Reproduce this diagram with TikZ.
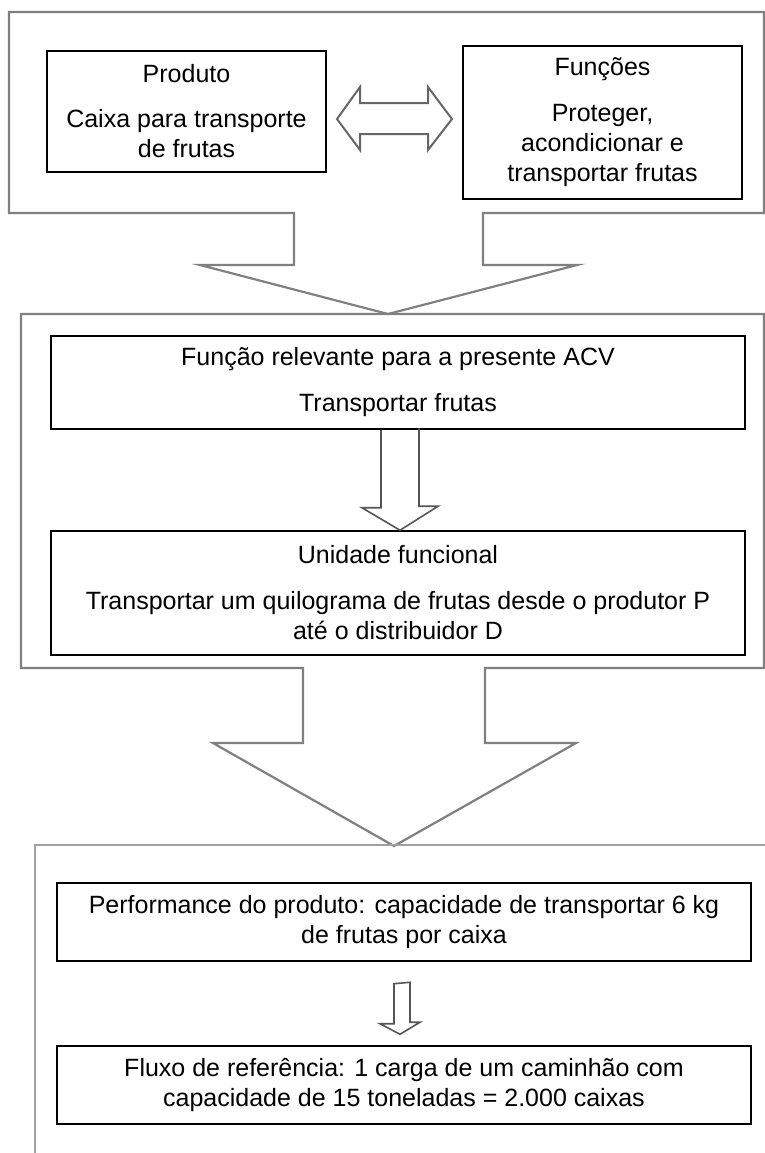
\documentclass[tikz,border=0pt]{standalone}
\usepackage{fontspec}
\setmainfont{Liberation Sans}
\definecolor{framegray}{RGB}{128,128,128}
\definecolor{arrowgray}{RGB}{85,85,85}

\begin{document}
\begin{tikzpicture}[x=0.5pt,y=-0.5pt,
  box/.style={rectangle, draw=black, line width=0.75pt, align=center, inner sep=0pt,
    font=\fontsize{12.5}{15}\selectfont},
  frame/.style={draw=framegray, line width=1.1pt, line join=miter},
  blockarrow/.style={draw=arrowgray, line width=0.8pt, line join=miter}]
\useasboundingbox (0,0) rectangle (765,1153);
% frames with the big arrows
\draw[frame] (294,213) -- (9,213) -- (9,12) -- (764,12) -- (764,213) -- (483,213)
  -- (483,265) -- (577,265) -- (388,314) -- (200,265) -- (294,265) -- cycle;
\draw[frame] (303,668) -- (21,668) -- (21,314) -- (764,314) -- (764,668) -- (485,668)
  -- (485,743) -- (576,743) -- (394,846) -- (213,743) -- (303,743) -- cycle;
\draw[draw=framegray!75, line width=0.6pt] (790,845) -- (35,845) -- (35,1170);
\node[box, minimum width=139.5pt, minimum height=60.5pt] (prod) at (186.5,111.5)
  {Produto\\[7.5pt]Caixa para transporte\\de frutas};
\node[box, minimum width=139.5pt, minimum height=76.5pt] (func) at (602.5,122.5)
  {Funções\\[8pt]Proteger,\\acondicionar e\\transportar frutas};
\node[box, minimum width=347pt, minimum height=46.5pt] (rel) at (398,382.5)
  {Função relevante para a presente ACV\\[8pt]Transportar frutas};
\node[box, minimum width=347pt, minimum height=62pt] (uni) at (398,593)
  {Unidade funcional\\[8pt]Transportar um quilograma de frutas desde o produtor P\\até o distribuidor D};
\node[box, minimum width=347pt, minimum height=39pt] (perf) at (404,922)
  {Performance do produto: capacidade de transportar 6 kg\\de frutas por caixa};
\node[box, minimum width=347pt, minimum height=39pt] (flux) at (404,1085)
  {Fluxo de referência: 1 carga de um caminhão com\\capacidade de 15 toneladas = 2.000 caixas};
% block arrows
\draw[blockarrow, draw=framegray!80!black, line width=1pt] (337,119) -- (360,87) -- (360,103) -- (428,103) -- (428,87)
  -- (452,119) -- (428,150) -- (428,134) -- (360,134) -- (360,150) -- cycle;
\draw[blockarrow] ([xshift=-8.5pt]rel.south) -- ++(0,78) -- ++(-19,0) -- ([xshift=1pt]uni.north)
  -- ++(38,-24) -- ++(-19,0) -- ++(0,-78);
\draw[blockarrow] ([xshift=-5pt,yshift=-11pt]perf.south) -- ++(0,40) -- ++(-14,0)
  -- ([xshift=-2pt,yshift=5.5pt]flux.north) -- ++(20,-12) -- ++(-10,0) -- ++(0,-40) -- cycle;
\end{tikzpicture}
\end{document}
